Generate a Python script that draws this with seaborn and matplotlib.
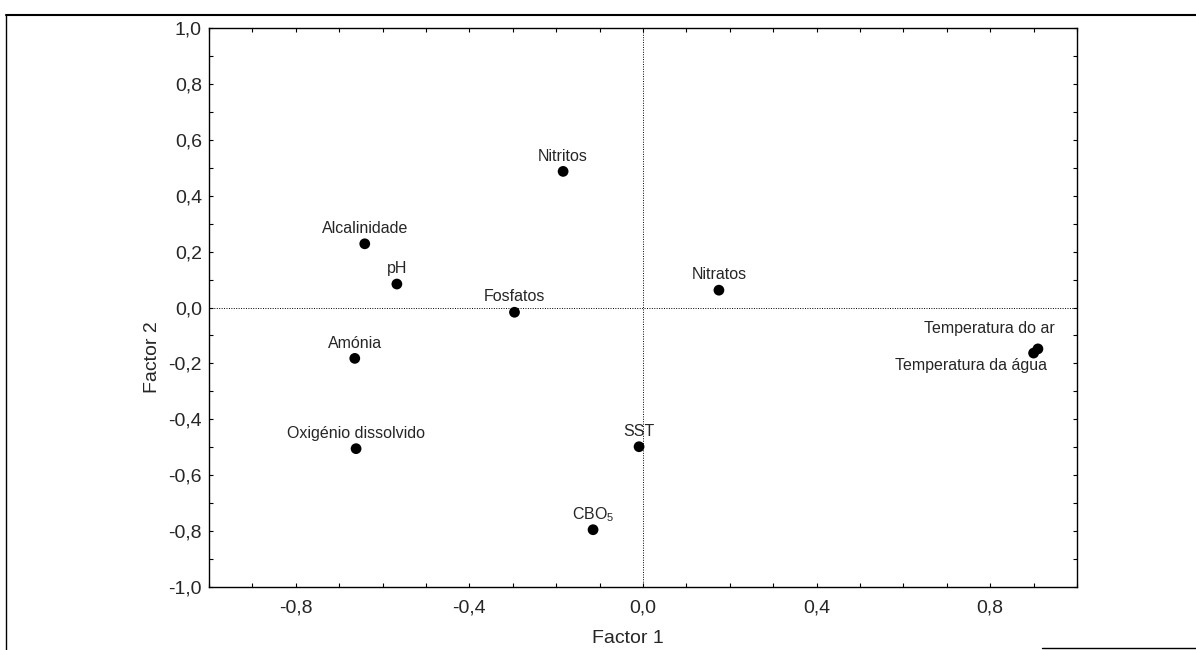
import matplotlib
matplotlib.use("Agg")
import matplotlib.pyplot as plt
import seaborn as sns
import pandas as pd
from matplotlib.ticker import MultipleLocator, FuncFormatter
from matplotlib.lines import Line2D

# loadings
variaveis = ["Nitritos", "Alcalinidade", "pH", "Fosfatos", "Nitratos", "Amónia",
             "Oxigénio dissolvido", "SST", r"CBO$_\mathrm{5}$",
             "Temperatura do ar", "Temperatura da água"]
factor1 = [-0.184, -0.641, -0.567, -0.296, 0.175, -0.664, -0.661, -0.009, -0.115, 0.910, 0.900]
factor2 = [0.487, 0.228, 0.084, -0.017, 0.062, -0.182, -0.505, -0.498, -0.795, -0.148, -0.163]

df = pd.DataFrame({"variavel": variaveis, "f1": factor1, "f2": factor2})

sns.set_style("ticks")
plt.rcParams["font.family"] = ["Liberation Sans", "DejaVu Sans"]
plt.rcParams["mathtext.fontset"] = "custom"
plt.rcParams["mathtext.rm"] = "Liberation Sans"

fig = plt.figure(figsize=(11.96, 6.5), dpi=100)
ax = fig.add_axes([0.1747, 0.0969, 0.7258, 0.86])

sns.scatterplot(data=df, x="f1", y="f2", color="black", s=60, edgecolor="none", ax=ax, zorder=3)

ax.axhline(0, color="black", linestyle=(0, (1, 1.5)), linewidth=0.7, zorder=1)
ax.axvline(0, color="black", linestyle=(0, (1, 1.5)), linewidth=0.7, zorder=1)

# label offsets (points): default centred above the dot
offsets = {"Temperatura do ar": ((12, 15), "right"),
           "Temperatura da água": ((10, -9), "right")}
for _, r in df.iterrows():
    off, ha = offsets.get(r["variavel"], ((0, 11), "center"))
    ax.annotate(r["variavel"], (r["f1"], r["f2"]), xytext=off, textcoords="offset points",
                ha=ha, va="center", fontsize=11.5)

ax.set_xlim(-1, 1)
ax.set_ylim(-1, 1)
ax.xaxis.set_major_locator(MultipleLocator(0.4))
ax.xaxis.set_minor_locator(MultipleLocator(0.1))
ax.yaxis.set_major_locator(MultipleLocator(0.2))
ax.yaxis.set_minor_locator(MultipleLocator(0.1))
fmt = FuncFormatter(lambda v, p: f"{0.0 if abs(v) < 1e-9 else v:.1f}".replace(".", ","))
ax.xaxis.set_major_formatter(fmt)
ax.yaxis.set_major_formatter(fmt)
ax.tick_params(which="both", direction="in", top=True, right=True, length=3, width=0.8, color="black")
ax.tick_params(axis="x", which="major", labelsize=14, pad=9)
ax.tick_params(axis="y", which="major", labelsize=14, pad=5)

for s in ax.spines.values():
    s.set_color("black")
    s.set_linewidth(1.0)

ax.set_xlabel("Factor 1", fontsize=14)
ax.set_ylabel("Factor 2", fontsize=14)
ax.xaxis.set_label_coords(0.483, -0.077)
ax.yaxis.set_label_coords(-0.055, 0.411)

# frame of the scanned page
W, H = 1196, 650
fig.add_artist(Line2D([6 / W, 1], [1 - 15 / H, 1 - 15 / H], color="black", lw=1.5))
fig.add_artist(Line2D([6 / W, 6 / W], [1 - 15 / H, 0], color="black", lw=1.0))
fig.add_artist(Line2D([1042 / W, 1], [1 - 648 / H, 1 - 648 / H], color="black", lw=1.0))

fig.savefig("out.png", dpi=100)
